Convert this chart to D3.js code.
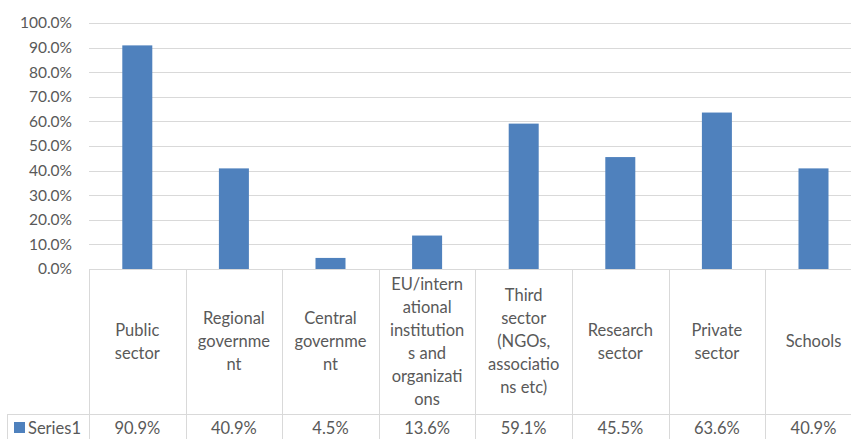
<!DOCTYPE html>
<html><head><meta charset="utf-8">
<script src="https://cdn.jsdelivr.net/npm/d3@7"></script>
<style>body{margin:0;background:#fff;}svg{display:block;font-family:Lato,"Open Sans",sans-serif;}</style>
</head><body>
<svg id="c" width="851" height="439"></svg>
<script>
const categories = ["Public sector","Regional government","Central government","EU/international institutions and organizations","Third sector (NGOs, associations etc)","Research sector","Private sector","Schools"];
const labelLines = [["Public","sector"],["Regional","governme","nt"],["Central","governme","nt"],["EU/intern","ational","institution","s and","organizati","ons"],["Third","sector","(NGOs,","associatio","ns etc)"],["Research","sector"],["Private","sector"],["Schools"]];
const series1 = [0.909,0.409,0.045,0.136,0.591,0.455,0.636,0.409];
const seriesName = "Series1";
const yTicks = [0,0.1,0.2,0.3,0.4,0.5,0.6,0.7,0.8,0.9,1.0];

(function(){
const svg = d3.select("#c");
const left = 89, colW = 96.6, plotTop = 23, plotBottom = 269;
const x = d3.scaleBand().domain(categories).range([left, left + colW*categories.length]).paddingInner(0).paddingOuter(0);
const y = d3.scaleLinear().domain([0,1]).range([plotBottom, plotTop]);
const txt = "#595959", grid = "#d9d9d9", blue = "#4f81bd";

// gridlines
svg.append("g").selectAll("line").data(yTicks.filter(d=>d>0)).join("line")
  .attr("x1", left).attr("x2", 851).attr("y1", d=>Math.round(y(d))+0.5).attr("y2", d=>Math.round(y(d))+0.5)
  .attr("stroke", grid).attr("stroke-width", 1);

// y axis labels
const yAxis = d3.axisLeft(y).tickValues(yTicks).tickFormat(d3.format(".1%")).tickSize(0).tickPadding(0);
const ga = svg.append("g").attr("transform", `translate(72,0)`).call(yAxis);
ga.select(".domain").remove();
ga.selectAll("text").attr("fill", txt).attr("font-size", 15.5).attr("font-family","Lato,sans-serif");

// bars
const bw = 30;
svg.append("g").selectAll("rect").data(series1).join("rect")
  .attr("x", (d,i)=>x(categories[i]) + x.bandwidth()/2 - bw/2)
  .attr("width", bw)
  .attr("y", d=>y(d)).attr("height", d=>y(0)-y(d))
  .attr("fill", blue);

// data table
const rowY = 414, tableBottom = 445;
const tbl = svg.append("g");
tbl.append("line").attr("x1", left).attr("x2", 851).attr("y1", plotBottom+0.5).attr("y2", plotBottom+0.5).attr("stroke", grid);
tbl.append("line").attr("x1", 7).attr("x2", 851).attr("y1", rowY+0.5).attr("y2", rowY+0.5).attr("stroke", grid);
tbl.append("line").attr("x1", 7.5).attr("x2", 7.5).attr("y1", rowY).attr("y2", tableBottom).attr("stroke", grid);
const bounds = categories.map(c=>x(c)).concat([x(categories[categories.length-1])+x.bandwidth()]);
tbl.selectAll("line.v").data(bounds).join("line").attr("class","v")
  .attr("x1", d=>Math.round(d)+0.5).attr("x2", d=>Math.round(d)+0.5)
  .attr("y1", plotBottom).attr("y2", tableBottom).attr("stroke", grid);

// category labels
const lh = 23;
const labG = svg.append("g").attr("font-size", 16.5).attr("fill", txt).attr("text-anchor","middle");
categories.forEach((c,i)=>{
  const lines = labelLines[i];
  const cx = x(c) + x.bandwidth()/2;
  const cy = (plotBottom + rowY)/2;
  const y0 = cy - (lines.length-1)*lh/2;
  const t = labG.append("text").attr("x", cx);
  lines.forEach((l,j)=>{
    t.append("tspan").attr("x", cx).attr("y", y0 + j*lh).attr("dy","0.35em").text(l);
  });
});

// values row
const valG = svg.append("g").attr("font-size", 16.5).attr("fill", txt).attr("text-anchor","middle");
valG.selectAll("text").data(series1).join("text")
  .attr("x", (d,i)=>x(categories[i]) + x.bandwidth()/2)
  .attr("y", 428).attr("dy","0.35em")
  .text(d=>d3.format(".1%")(d));

// legend key
svg.append("rect").attr("x", 14).attr("y", 422).attr("width", 11).attr("height", 11).attr("fill", blue);
svg.append("text").attr("x", 28).attr("y", 428).attr("dy","0.35em").attr("font-size", 16.5).attr("fill", txt).text(seriesName);
})();
</script>
</body></html>
